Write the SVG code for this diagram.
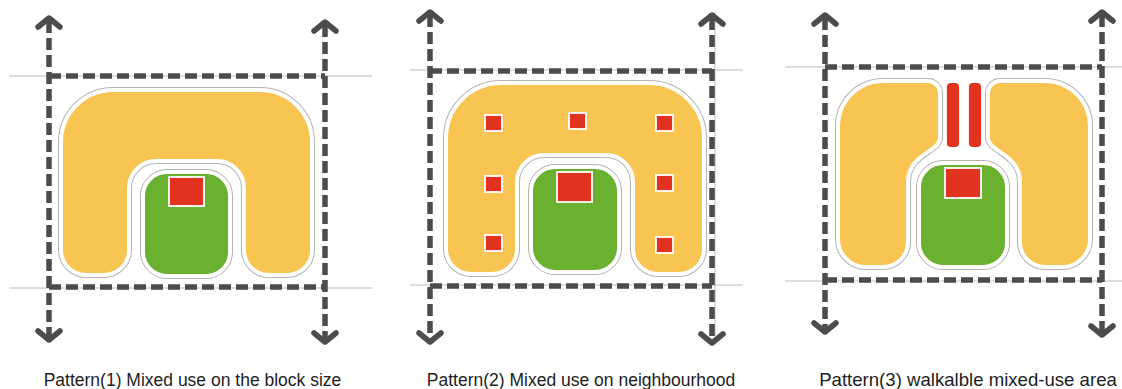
<svg xmlns="http://www.w3.org/2000/svg" width="1122" height="389" viewBox="0 0 1122 389">
  <style>
    .guide { stroke: #bdbdbd; stroke-width: 1; fill: none; }
    .dash { stroke: #4c4c4c; stroke-width: 5.5; stroke-dasharray: 12 5; fill: none; }
    .head { stroke: #4c4c4c; stroke-width: 5.5; stroke-linecap: round; stroke-linejoin: round; fill: none; }
    .halo { fill: none; stroke: #b4b4b4; stroke-width: 6; }
    .orange { fill: #F8C552; stroke: #ffffff; stroke-width: 4; }
    .green { fill: #69B12F; stroke: #ffffff; stroke-width: 4; }
    .red { fill: #E1331F; stroke: #ffffff; stroke-width: 1.8; }
    .caption { font-family: "Liberation Sans", Arial, sans-serif; font-size: 17.5px; fill: #1e1e1e; text-anchor: middle; }
  </style>
  <defs>
    <path id="arch1" d="M 61 142 A 52 52 0 0 1 113 90 H 260 A 52 52 0 0 1 312 142 V 250 A 25 25 0 0 1 287 275 H 269 A 25 25 0 0 1 244 250 V 188 A 27 27 0 0 0 217 161 H 156 A 27 27 0 0 0 129 188 V 250 A 25 25 0 0 1 104 275 H 86 A 25 25 0 0 1 61 250 Z"/>
    <path id="arch2" d="M 446 138 A 55 55 0 0 1 501 83 H 649 A 55 55 0 0 1 704 138 V 249 A 25 25 0 0 1 679 274 H 658 A 25 25 0 0 1 633 249 V 182 A 27 27 0 0 0 606 155 H 544 A 27 27 0 0 0 517 182 V 249 A 25 25 0 0 1 492 274 H 471 A 25 25 0 0 1 446 249 Z"/>
    <path id="wingL" d="M 838 126 A 45 45 0 0 1 883 81 H 928 A 12 12 0 0 1 940 93 V 138 C 940 152 908 154 908 182 V 242 A 25 25 0 0 1 883 267 H 866 A 28 28 0 0 1 838 239 Z"/>
    <path id="wingR" d="M 1090 126 A 45 45 0 0 0 1045 81 H 1000 A 12 12 0 0 0 988 93 V 138 C 988 152 1020 154 1020 182 V 242 A 25 25 0 0 0 1045 267 H 1062 A 28 28 0 0 0 1090 239 Z"/>
  </defs>

  <!-- thin street guide lines -->
  <g id="guides">
    <line class="guide" x1="9" y1="76" x2="372" y2="76"/>
    <line class="guide" x1="9" y1="288" x2="372" y2="288"/>
    <line class="guide" x1="410" y1="70" x2="743" y2="70"/>
    <line class="guide" x1="410" y1="285" x2="743" y2="285"/>
    <line class="guide" x1="715" y1="12" x2="715" y2="336"/>
    <line class="guide" x1="785" y1="67" x2="1122" y2="67"/>
    <line class="guide" x1="785" y1="281" x2="1122" y2="281"/>
  </g>

  <!-- Pattern 1 -->
  <g id="pattern1">
    <g id="p1-housing">
      <use href="#arch1" class="halo"/>
      <use href="#arch1" class="orange"/>
    </g>
    <g id="p1-park">
      <rect class="halo" x="143" y="172" width="87" height="104" rx="24"/>
      <rect class="green" x="143" y="172" width="87" height="104" rx="24"/>
    </g>
    <g id="p1-centre">
      <rect class="red" x="169" y="177" width="35" height="29"/>
    </g>
  </g>

  <!-- Pattern 2 -->
  <g id="pattern2">
    <g id="p2-housing">
      <use href="#arch2" class="halo"/>
      <use href="#arch2" class="orange"/>
    </g>
    <g id="p2-park">
      <rect class="halo" x="531" y="167" width="88" height="105" rx="24"/>
      <rect class="green" x="531" y="167" width="88" height="105" rx="24"/>
    </g>
    <g id="p2-centre">
      <rect class="red" x="557" y="172" width="35" height="30"/>
    </g>
    <g id="p2-shops">
      <rect class="red" x="485" y="115" width="17" height="16"/>
      <rect class="red" x="569" y="113" width="17" height="16"/>
      <rect class="red" x="656" y="115" width="17" height="16"/>
      <rect class="red" x="485" y="176" width="17" height="16"/>
      <rect class="red" x="656" y="175" width="17" height="16"/>
      <rect class="red" x="485" y="235" width="17" height="16"/>
      <rect class="red" x="656" y="237" width="17" height="16"/>
    </g>
  </g>

  <!-- Pattern 3 -->
  <g id="pattern3">
    <g id="p3-housing-left">
      <use href="#wingL" class="halo"/>
      <use href="#wingL" class="orange"/>
    </g>
    <g id="p3-housing-right">
      <use href="#wingR" class="halo"/>
      <use href="#wingR" class="orange"/>
    </g>
    <g id="p3-park">
      <rect class="halo" x="919" y="163" width="88" height="104" rx="24"/>
      <rect class="green" x="919" y="163" width="88" height="104" rx="24"/>
    </g>
    <g id="p3-centre">
      <rect class="red" x="945" y="168" width="36" height="30"/>
    </g>
    <g id="p3-street-shops">
      <rect class="red" x="946" y="82" width="14" height="66" rx="5"/>
      <rect class="red" x="968" y="82" width="14" height="66" rx="5"/>
    </g>
  </g>

  <!-- dashed block edges and street arrows -->
  <g id="connectors">
    <!-- pattern 1 -->
    <line class="dash" x1="49" y1="76" x2="325" y2="76"/>
    <line class="dash" x1="49" y1="287" x2="325" y2="287"/>
    <line class="dash" x1="49" y1="21" x2="49" y2="337"/>
    <line class="dash" x1="325" y1="25" x2="325" y2="339"/>
    <polyline class="head" points="38,27 49,18 60,27"/>
    <polyline class="head" points="38,331 49,340 60,331"/>
    <polyline class="head" points="314,31 325,22 336,31"/>
    <polyline class="head" points="314,333 325,342 336,333"/>
    <!-- pattern 2 -->
    <line class="dash" x1="430" y1="71" x2="712" y2="71"/>
    <line class="dash" x1="430" y1="286" x2="712" y2="286"/>
    <line class="dash" x1="430" y1="15" x2="430" y2="339"/>
    <line class="dash" x1="712" y1="18" x2="712" y2="340"/>
    <polyline class="head" points="419,21 430,12 441,21"/>
    <polyline class="head" points="419,333 430,342 441,333"/>
    <polyline class="head" points="701,24 712,15 723,24"/>
    <polyline class="head" points="701,334 712,343 723,334"/>
    <!-- pattern 3 -->
    <line class="dash" x1="825" y1="67" x2="1102" y2="67"/>
    <line class="dash" x1="825" y1="280" x2="1102" y2="280"/>
    <line class="dash" x1="825" y1="18" x2="825" y2="329"/>
    <line class="dash" x1="1102" y1="15" x2="1102" y2="332"/>
    <polyline class="head" points="814,24 825,15 836,24"/>
    <polyline class="head" points="814,323 825,332 836,323"/>
    <polyline class="head" points="1091,21 1102,12 1113,21"/>
    <polyline class="head" points="1091,326 1102,335 1113,326"/>
  </g>

  <!-- captions -->
  <g id="captions">
    <text class="caption" x="192.5" y="386">Pattern(1) Mixed use on the block size</text>
    <text class="caption" x="581" y="386">Pattern(2) Mixed use on neighbourhood</text>
    <text class="caption" x="968" y="386" style="font-size:18.6px">Pattern(3) walkalble mixed-use area</text>
  </g>
</svg>
